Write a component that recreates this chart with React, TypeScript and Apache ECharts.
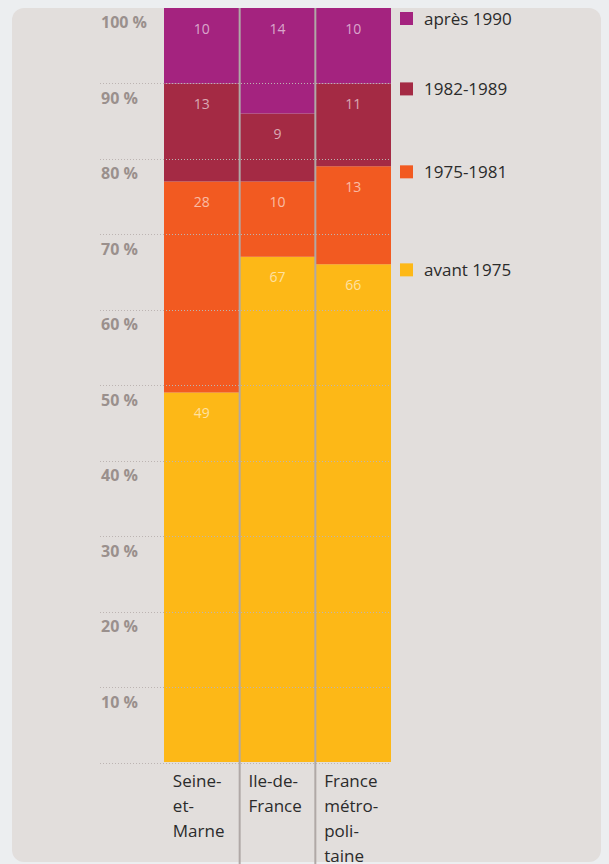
import React, { useEffect, useRef } from "react";
import * as echarts from "echarts";

const categories = ["Seine-et-Marne", "Ile-de-France", "France métropolitaine"];
const categoryLines = [
  ["Seine-", "et-", "Marne"],
  ["Ile-de-", "France"],
  ["France", "métro-", "poli-", "taine"],
];
const seriesNames = ["avant 1975", "1975-1981", "1982-1989", "après 1990"];
const avant1975 = [49, 67, 66];
const p1975_1981 = [28, 10, 13];
const p1982_1989 = [13, 9, 11];
const apres1990 = [10, 14, 10];
const seriesValues = [avant1975, p1975_1981, p1982_1989, apres1990];
const seriesColors = ["#fdb817", "#f25a21", "#a42a44", "#a4237f"];
const yMin = 0;
const yMax = 100;
const yInterval = 10;

const FONT = "'Open Sans', 'Noto Sans', sans-serif";

export default function App() {
  const ref = useRef<HTMLDivElement>(null);

  useEffect(() => {
    if (!ref.current) return;
    const chart = echarts.init(ref.current, undefined, { renderer: "svg" });

    const gridTop = 8;
    const gridHeight = 755;

    const option: any = {
      animation: false,
      backgroundColor: "#eceef0",
      grid: [
        { left: 100, top: gridTop, width: 291, height: gridHeight },
        { left: 164, top: gridTop, width: 227, height: gridHeight },
      ],
      xAxis: [
        { gridIndex: 0, type: "value", min: 0, max: 1, show: false },
        {
          gridIndex: 1,
          type: "category",
          data: categories,
          axisLine: { show: false },
          axisTick: { show: false },
          splitLine: { show: false },
          axisLabel: {
            margin: 6,
            align: "center",
            verticalAlign: "top",
            interval: 0,
            formatter: (_v: string, idx: number) =>
              categoryLines[idx].map((l) => `{a|${l}}`).join("\n"),
            rich: {
              a: {
                width: 58,
                align: "left",
                fontSize: 17,
                lineHeight: 25,
                color: "#2b2b2b",
                fontFamily: FONT,
              },
            },
          },
        },
      ],
      yAxis: [
        {
          gridIndex: 0,
          type: "value",
          min: yMin,
          max: yMax,
          interval: yInterval,
          z: 5,
          axisLine: { show: false },
          axisTick: { show: false },
          splitLine: {
            show: true,
            showMaxLine: false,
            lineStyle: { color: "#bcb4b2", width: 1, type: [1, 2] },
          },
          axisLabel: {
            inside: true,
            margin: 1,
            align: "left",
            verticalAlign: "top",
            padding: [6, 0, 0, 0],
            fontSize: 16,
            fontWeight: "bold",
            color: "#9a908d",
            fontFamily: FONT,
            formatter: (v: number) => (v === 0 ? "" : `${v} %`),
          },
        },
        {
          gridIndex: 1,
          type: "value",
          min: yMin,
          max: yMax,
          interval: yInterval,
          show: false,
          splitLine: { show: false },
        },
      ],
      series: seriesNames.map((name, i) => ({
        name,
        type: "bar",
        stack: "total",
        xAxisIndex: 1,
        yAxisIndex: 1,
        barCategoryGap: "0%",
        data: seriesValues[i],
        itemStyle: { color: seriesColors[i] },
        label: {
          show: true,
          position: "insideTop",
          distance: 13,
          fontSize: 14,
          color: "rgba(255,255,255,0.6)",
          fontFamily: FONT,
        },
      })),
      graphic: [
        {
          type: "rect",
          z: -10,
          shape: { x: 12, y: 8, width: 589, height: 854, r: 12 },
          style: { fill: "#e2dedc" },
        },
      ],
    };

    chart.setOption(option);

    // separators between bars and legend positions, derived from the scales
    const centers = categories.map(
      (_c, i) => chart.convertToPixel({ xAxisIndex: 1 }, i) as number
    );
    const seps: any[] = [];
    for (let i = 0; i < centers.length - 1; i++) {
      const x = (centers[i] + centers[i + 1]) / 2;
      seps.push({
        type: "line",
        z: 20,
        shape: { x1: x, y1: 8, x2: x, y2: 864 },
        style: { stroke: "#b0a8a6", lineWidth: 2 },
      });
    }
    const last = categories.length - 1;
    let cum = 0;
    const legends = seriesNames.map((name, i) => {
      cum += seriesValues[i][last];
      const px = chart.convertToPixel({ yAxisIndex: 1 }, cum) as number;
      return {
        data: [name],
        left: 400,
        top: Math.max(px - 3, 10),
        padding: 0,
        icon: "rect",
        itemWidth: 13,
        itemHeight: 13,
        selectedMode: false,
        textStyle: {
          fontSize: 17,
          color: "#2b2b2b",
          fontFamily: FONT,
          padding: [3, 0, 0, 6],
        },
      };
    });
    chart.setOption({
      legend: legends,
      graphic: [option.graphic[0], ...seps],
    });

    return () => chart.dispose();
  }, []);

  return (
    <div
      ref={ref}
      style={{ position: "absolute", left: 0, top: 0, width: 609, height: 864 }}
    />
  );
}
